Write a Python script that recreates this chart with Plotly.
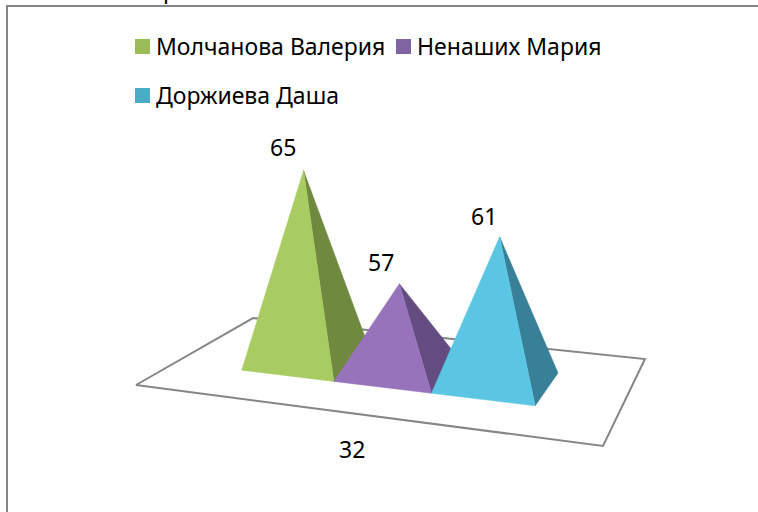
import numpy as np
import plotly.graph_objects as go

# Data
category_label = "32"
series_names = ["Молчанова Валерия", "Ненаших Мария", "Доржиева Даша"]
series_values = [65, 57, 61]

# Style
swatch_colors = ["#9BBB59", "#8064A2", "#4BACC6"]
front_colors = ["#A8CC62", "#9673BB", "#5BC6E4"]
side_colors = ["#6F8A3F", "#634C80", "#388097"]
line_color = "#868686"
font_family = "Noto Sans"
font_size = 23
label_xshift = [-21, -18, -16]
label_yshift = [23, 22, 21]

# Value axis / projection settings for the 3D look
axis_min = 50.5
height_scale = 14.0
lean = 0.1
u_start, u_step = 0.167, 0.222
v_front, v_back = 0.30, 0.70
H_g, H_h = -0.1330, 0.2056
H_a, H_b, H_c = 386.8, 169.0, 136.0
H_d, H_e, H_f = 1.7, -1.6, 385.0


def project(u, v):
    w = H_g * u + H_h * v + 1
    return (H_a * u + H_b * v + H_c) / w, (H_d * u + H_e * v + H_f) / w


def depth(u, v):
    return H_g * u + H_h * v + 1


fig = go.Figure()

# Floor
corners = [project(*c) for c in [(0, 0), (1, 0), (1, 1), (0, 1), (0, 0)]]
fig.add_trace(go.Scatter(x=[c[0] for c in corners], y=[c[1] for c in corners],
                         mode="lines", line=dict(color=line_color, width=2),
                         fill="toself", fillcolor="white", showlegend=False,
                         hoverinfo="skip"))


def face(pts, color, name):
    fig.add_trace(go.Scatter(x=[p[0] for p in pts] + [pts[0][0]],
                             y=[p[1] for p in pts] + [pts[0][1]],
                             mode="lines", fill="toself", fillcolor=color,
                             line=dict(color=color, width=0.5), name=name,
                             showlegend=False, hoverinfo="name"))


annotations = []
for i, (name, val) in enumerate(zip(series_names, series_values)):
    u0, u1 = u_start + i * u_step, u_start + (i + 1) * u_step
    um, vm = (u0 + u1) / 2, (v_front + v_back) / 2
    cx, cy = project(um, vm)
    h = (val - axis_min) * height_scale / depth(um, vm)
    apex = (cx + (um - 0.5) * lean * h, cy - h)
    fl, fr, br = project(u0, v_front), project(u1, v_front), project(u1, v_back)
    face([fr, br, apex], side_colors[i], name)
    face([fl, fr, apex], front_colors[i], name)
    annotations.append(dict(x=apex[0], y=apex[1], xref="x", yref="y", text=str(val),
                            showarrow=False, xshift=label_xshift[i], yshift=label_yshift[i],
                            font=dict(family=font_family, size=font_size, color="#000")))

# Legend rows
legend_pos = [(142.5, 46.5), (403.5, 46.5), (142.5, 95.5)]
for (lx, ly), name, col in zip(legend_pos, series_names, swatch_colors):
    fig.add_trace(go.Scatter(x=[lx], y=[ly], mode="markers",
                             marker=dict(symbol="square", size=15, color=col),
                             name=name, showlegend=False, hoverinfo="name"))
    annotations.append(dict(x=lx + 11, y=ly - 1, xref="x", yref="y", text=name, xanchor="left",
                            showarrow=False,
                            font=dict(family=font_family, size=font_size, color="#000")))

# Category label
annotations.append(dict(x=352, y=449, xref="x", yref="y", text=category_label, showarrow=False,
                        font=dict(family=font_family, size=font_size, color="#000")))
# Cut-off character of the page text above the chart
annotations.append(dict(x=170, y=1.0, xref="x", yref="paper", yshift=11, text="р",
                        showarrow=False, yanchor="middle",
                        font=dict(family=font_family, size=font_size, color="#000")))

fig.update_layout(
    width=758, height=512, margin=dict(l=0, r=0, t=0, b=0),
    paper_bgcolor="white", plot_bgcolor="white", showlegend=False,
    xaxis=dict(range=[0, 758], visible=False, fixedrange=True),
    yaxis=dict(range=[512, 0], visible=False, fixedrange=True),
    annotations=annotations,
    shapes=[dict(type="line", xref="x", yref="y", x0=7, y0=6, x1=7, y1=512,
                 line=dict(color=line_color, width=2)),
            dict(type="line", xref="x", yref="y", x0=6, y0=6, x1=758, y1=6,
                 line=dict(color=line_color, width=2))],
)
fig.write_html("out.html", config=dict(displayModeBar=False),
               post_script="document.body.style.margin='0';document.documentElement.style.overflow='hidden';")
